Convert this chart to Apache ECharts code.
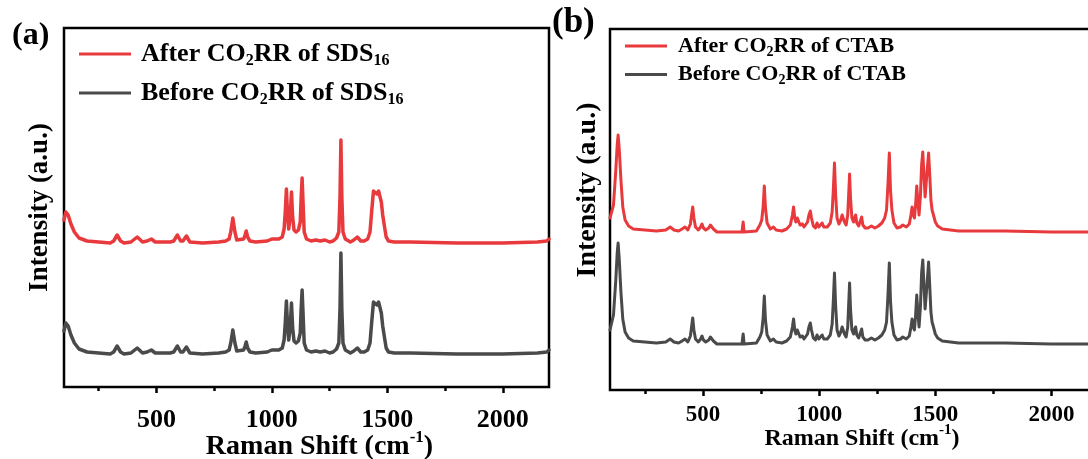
<!DOCTYPE html>
<html>
<head>
<meta charset="utf-8">
<script src="https://cdn.jsdelivr.net/npm/echarts@6/dist/echarts.min.js"></script>
<style>html,body{margin:0;padding:0;background:#fff}#c{width:1088px;height:459px}</style>
</head>
<body>
<div id="c"></div>
<script>
// ---------- Panel (a): SDS16 ----------
const shiftA = [100,108,118,130,145,165,200,250,300,315,330,345,360,390,417,440,460,478,495,520,560,575,591,605,615,630,645,700,770,800,815,822,831,840,848,878,884,889,895,905,930,980,1000,1030,1045,1053,1058,1063,1068,1073,1079,1085,1090,1096,1105,1115,1123,1127,1131,1135,1140,1150,1170,1190,1210,1230,1250,1265,1280,1290,1295,1299,1303,1308,1318,1340,1355,1370,1385,1400,1415,1425,1432,1440,1447,1455,1462,1468,1474,1480,1484,1488,1495,1505,1530,1600,1800,2000,2150,2190,2200];
const afterA = [167,175,172,163,155,149,146,145,144,146,152,146,144,145,150,145,146,148,145,145,145,146,152,146,146,151,145,144,145,146,148,155,169,155,147,148,152,156,150,146,145,146,148,148,150,158,175,198,172,158,170,195,170,157,155,157,165,190,209,185,155,148,146,147,146,147,145,146,149,155,190,247,190,155,148,145,147,150,146,146,148,155,175,196,198,193,196,197,185,172,170,160,150,146,145,145,144,144,145,146,148];
const beforeA = [56,64,61,52,44,38,35,34,33,35,41,35,33,34,39,34,35,37,34,34,34,35,41,35,35,40,34,33,34,35,37,44,57,44,36,37,41,45,39,35,34,35,37,37,39,47,64,86,61,47,59,84,59,46,44,46,54,79,97,74,44,37,35,36,35,36,34,35,38,44,78,134,78,44,37,34,36,39,35,35,37,44,64,85,87,82,85,86,74,61,59,49,39,35,34,34,33,33,34,35,37];

// ---------- Panel (b): CTAB ----------
const shiftB = [100,115,125,131,135,140,147,155,165,180,200,250,300,340,359,375,395,410,423,435,446,451,456,461,468,480,490,496,502,512,525,532,538,545,560,600,668,673,677,730,745,753,759,764,769,776,790,803,815,840,860,876,885,890,895,900,906,912,918,928,935,941,950,956,962,967,975,984,991,998,1006,1013,1020,1035,1048,1056,1061,1066,1071,1077,1085,1093,1099,1104,1109,1116,1123,1127,1131,1135,1141,1148,1152,1157,1162,1170,1177,1183,1188,1198,1210,1225,1240,1255,1270,1282,1290,1296,1302,1307,1313,1322,1335,1350,1360,1367,1375,1388,1395,1400,1405,1410,1415,1420,1425,1430,1436,1441,1446,1451,1456,1460,1465,1471,1476,1481,1486,1492,1500,1510,1530,1600,1800,2000,2200];
const afterB = [172,185,220,245,255,240,210,183,170,164,161,160,159,160,163,160,159,161,163,160,166,175,183,172,163,160,163,166,162,160,162,165,167,161,158,158,158,168,158,159,165,170,183,204,182,167,161,163,160,159,161,165,175,183,172,168,172,174,165,166,163,164,168,175,179,172,164,162,167,163,162,167,163,163,167,178,200,227,195,172,166,170,175,177,168,165,175,195,216,192,172,168,172,175,167,164,166,173,165,162,162,164,162,164,167,172,180,205,237,200,180,167,162,163,165,166,163,166,175,183,175,172,185,204,188,175,195,225,238,215,193,195,220,237,215,190,180,175,168,164,161,159,159,158,158];
const beforeB = [60,75,110,137,147,130,98,71,58,52,49,48,47,48,51,48,47,49,51,48,54,63,72,60,51,48,51,54,50,48,50,53,55,49,46,46,46,56,46,47,53,58,72,94,70,55,49,51,48,47,49,53,63,71,60,56,60,62,53,54,51,52,56,63,67,60,52,50,55,51,50,55,51,51,55,66,89,117,84,60,54,58,63,65,56,53,63,85,107,81,60,56,60,63,55,52,54,61,53,50,50,52,50,52,55,60,68,94,127,89,68,55,50,51,53,54,51,54,63,71,63,60,74,95,77,63,84,117,130,105,81,83,108,128,104,78,68,63,56,52,49,47,47,46,46];

const majorTicks = [500,1000,1500,2000];
const minorTicks = [250,750,1250,1750];
const legendA = ['After CO2RR of SDS16','Before CO2RR of SDS16'];
const legendB = ['After CO2RR of CTAB','Before CO2RR of CTAB'];
const RED = '#e8393c', GRAY = '#4a4a4a';
const FONT = '"Liberation Serif", "Times New Roman", serif';

function pair(xs, ys){ return xs.map((x,i)=>[x, ys[i]]); }
function richName(n){
  return n.replace(/CO2RR/, '{n|CO}{s|2}{n|RR}').replace(/^(After|Before) /, '{n|$1 }')
          .replace(/ of SDS16$/, '{n| of SDS}{s|16}').replace(/ of CTAB$/, '{n| of CTAB}');
}

const chart = echarts.init(document.getElementById('c'), null, {renderer:'canvas'});

function xAxes(gi, fs, tfs, margin, gap, padL){
  return [{
    gridIndex: gi, type:'value', position:'bottom', min:100, max:2200,
    axisLine:{show:false}, splitLine:{show:false},
    axisTick:{show:true, customValues: majorTicks, length:6, inside:false, lineStyle:{color:'#000', width:2.5}},
    axisLabel:{show:true, customValues: majorTicks, formatter: v => String(v), margin:margin, color:'#000', fontFamily:FONT, fontWeight:'bold', fontSize:fs},
    name:'{t|Raman Shift (cm}{p|-1}{t|)}', nameLocation:'middle', nameGap:gap, nameMoveOverlap:false,
    nameTextStyle:{padding:[0,0,0,padL], rich:{
      t:{fontFamily:FONT, fontWeight:'bold', fontSize:tfs, color:'#000', lineHeight:tfs+4, verticalAlign:'bottom'},
      p:{fontFamily:FONT, fontWeight:'bold', fontSize:Math.round(tfs*0.62), color:'#000', lineHeight:tfs+4, verticalAlign:'top'}
    }}
  },{
    gridIndex: gi, type:'value', position:'bottom', min:100, max:2200,
    axisLine:{show:false}, splitLine:{show:false}, axisLabel:{show:false},
    axisTick:{show:true, customValues: minorTicks, length:4, inside:false, lineStyle:{color:'#000', width:2.5}}
  }];
}
function yAxis(gi, max, fs, gap, padL){
  return {gridIndex:gi, type:'value', min:0, max:max, axisLine:{show:false}, axisTick:{show:false},
    axisLabel:{show:false}, splitLine:{show:false},
    name:'Intensity (a.u.)', nameLocation:'middle', nameGap:gap, nameMoveOverlap:false,
    nameTextStyle:{fontFamily:FONT, fontWeight:'bold', fontSize:fs, color:'#000', padding:[0,0,0,padL]}};
}
function legend(names, left, top, w, fs, gap, tgap){
  return {data:names, left:left, top:top, orient:'vertical', padding:0, itemGap:gap, itemWidth:w, itemHeight:3,
    icon:'rect', formatter: n => richName(n),
    textStyle:{padding:[0,0,0,tgap], rich:{
      n:{fontFamily:FONT, fontWeight:'bold', fontSize:fs, color:'#000', lineHeight:fs+4, verticalAlign:'middle'},
      s:{fontFamily:FONT, fontWeight:'bold', fontSize:Math.round(fs*0.62), color:'#000', lineHeight:fs+4, verticalAlign:'bottom'}
    }}};
}
function line(name, xi, yi, xs, ys, color, w){
  return {name:name, type:'line', xAxisIndex:xi, yAxisIndex:yi, data:pair(xs, ys), showSymbol:false, symbol:'none',
    smooth:false, lineStyle:{color:color, width:w, join:'round', cap:'round'}, itemStyle:{color:color}, silent:true, animation:false, clip:true};
}

chart.setOption({
  animation:false,
  backgroundColor:'#fff',
  grid:[
    {left:64, top:28, width:485, height:359, show:true, borderColor:'#000', borderWidth:2.5, containLabel:false, outerBoundsMode:'none'},
    {left:610, top:29, width:488, height:361, show:true, borderColor:'#000', borderWidth:2.5, containLabel:false, outerBoundsMode:'none'}
  ],
  xAxis:[...xAxes(0, 26, 28, 20, 42, 26), ...xAxes(1, 23, 24, 14, 33, 16)],
  yAxis:[yAxis(0, 359, 27, 10, 0), yAxis(1, 361, 28, 8, 39)],
  legend:[legend(legendA, 79, 41, 52, 26, 11, 5), legend(legendB, 625, 35, 42, 22, 4.5, 6)],
  graphic:[
    {type:'text', left:12, top:20, style:{text:'(a)', font:'bold 32px '+FONT, fill:'#000'}},
    {type:'text', left:552, top:5, style:{text:'(b)', font:'bold 35px '+FONT, fill:'#000'}}
  ],
  series:[
    line(legendA[0], 0, 0, shiftA, afterA, RED, 3.5),
    line(legendA[1], 0, 0, shiftA, beforeA, GRAY, 3.5),
    line(legendB[0], 2, 1, shiftB, afterB, RED, 3),
    line(legendB[1], 2, 1, shiftB, beforeB, GRAY, 3)
  ]
});
</script>
</body>
</html>
